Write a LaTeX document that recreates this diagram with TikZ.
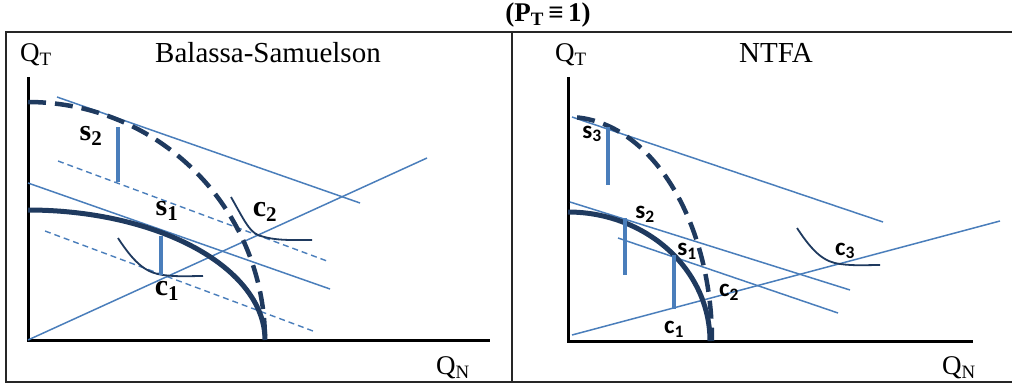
\documentclass[tikz,border=0pt]{standalone}
\usepackage{fontspec}
\setmainfont{Liberation Serif}
\newfontfamily\calib{Carlito}
\definecolor{bl}{HTML}{4A7EBB}
\definecolor{nv}{HTML}{1F3A5F}
\begin{document}
\begin{tikzpicture}[x=1pt,y=-1pt,
  frame/.style={line width=2.6pt,black!85},
  axis/.style={line width=3pt,black},
  bline/.style={bl,line width=1.5pt},
  bdash/.style={bl,line width=1.4pt,dash pattern=on 6pt off 4pt},
  seg/.style={bl,line width=4pt},
  ppf/.style={nv,line width=5pt},
  ppfd/.style={nv,line width=4.5pt,dash pattern=on 18pt off 9pt},
  ic/.style={nv,line width=1.8pt},
  ttl/.style={font=\fontsize{29}{32}\selectfont},
  axl/.style={font=\fontsize{27}{29}\selectfont},
  lab/.style={font=\fontsize{30}{32}\selectfont\bfseries},
  labs/.style={font=\fontsize{25}{27}\selectfont\calib\bfseries}]
\useasboundingbox (0,0) rectangle (1012,388);
% frame
\draw[frame] (1012,32) -- (6,32) -- (6,382) -- (1012,382);
\draw[frame] (512,32) -- (512,382);
\node[font=\fontsize{27}{29}\selectfont\bfseries] (title) at (548,15) {(P\textsubscript{T}\,≡\,1)};
% ---------- left panel ----------
\node[axl] (qtl) at (36,55) {Q\textsubscript{T}};
\node[ttl] (bs) at (268,53) {Balassa-Samuelson};
\node[axl] (qnl) at (453,368) {Q\textsubscript{N}};
\draw[axis] (28,77) -- (28,340) -- (490,340);
\draw[bline] (28,340) -- (427,158);
\draw[bline] (57,97) -- (360,203);
\draw[bline] (28,183) -- (330,289);
\draw[bdash] (58,161) -- (327,261);
\draw[bdash] (45,231) -- (313,331);
\draw[ppf] plot[domain=90:0,samples=80] ({28+237*cos(\x)},{340-130*sin(\x)});
\draw[ppfd] plot[domain=90:0,samples=80] ({28+237*cos(\x)},{340-238*sin(\x)});
\draw[ic] (118,238) .. controls (136,266) and (148,273) .. (163,275) .. controls (178,277) and (190,276) .. (203,276);
\draw[ic] (231,197) .. controls (244,220) and (249,231) .. (258,235) .. controls (274,241) and (292,240) .. (312,240);
\draw[seg] (118,127) -- (118,182);
\draw[seg] (161,236) -- (161,275);
\node[lab] (s2l) at (91,136) {s\textsubscript{2}};
\node[lab] (s1l) at (167,211) {s\textsubscript{1}};
\node[lab] (c1l) at (167,291) {c\textsubscript{1}};
\node[lab] (c2l) at (265,212) {c\textsubscript{2}};
% ---------- right panel ----------
\node[axl] (qtr) at (571,55) {Q\textsubscript{T}};
\node[ttl] (nt) at (776,53) {NTFA};
\node[axl] (qnr) at (959,368) {Q\textsubscript{N}};
\draw[axis] (568,77) -- (568,341) -- (973,341);
\draw[bline] (572,335) -- (1000,221);
\draw[bline] (572,117) -- (883,222);
\draw[bline] (570,202) -- (850,290);
\draw[bline] (618,238) -- (838,313);
\draw[ppf] plot[domain=90:0,samples=80] ({568+142*cos(\x)},{341-129*sin(\x)});
\draw[ppfd] plot[domain=86.4:0,samples=80] ({568+144*cos(\x)},{341-224*sin(\x)});
\draw[ic] (797,228) .. controls (814,254) and (825,262) .. (840,264) .. controls (855,266) and (866,265) .. (880,265);
\draw[seg] (608,127) -- (608,185);
\draw[seg] (625,218) -- (625,275);
\draw[seg] (674,255) -- (674,309);
\node[labs] (s3r) at (592,134) {s\textsubscript{3}};
\node[labs] (s2r) at (645,214) {s\textsubscript{2}};
\node[labs] (s1r) at (687,251) {s\textsubscript{1}};
\node[labs] (c2r) at (729,292) {c\textsubscript{2}};
\node[labs] (c1r) at (674,329) {c\textsubscript{1}};
\node[labs] (c3r) at (845,251) {c\textsubscript{3}};
\end{tikzpicture}
\end{document}
